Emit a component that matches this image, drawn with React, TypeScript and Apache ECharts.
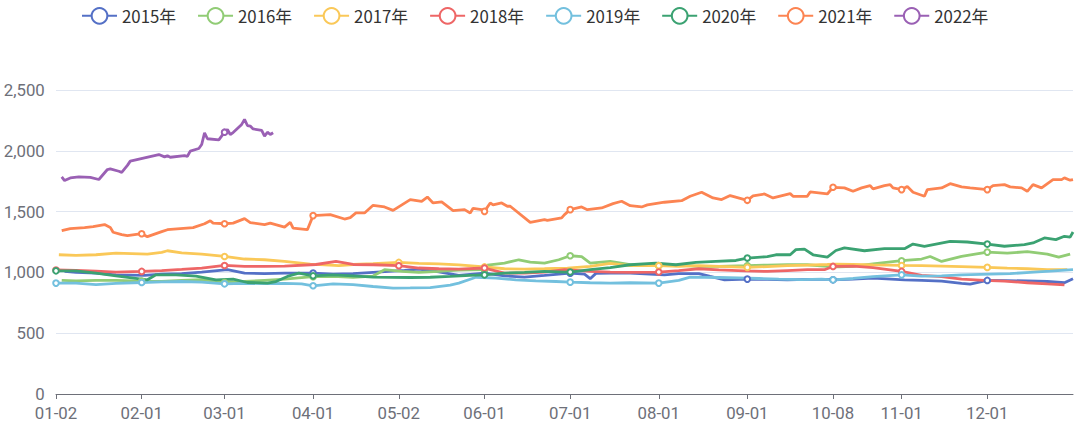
import React, { useEffect, useRef } from "react";
import * as echarts from "echarts";

// Calendar of MM-DD categories (union of trading days across years)
const MONTH_LENGTHS = [31, 29, 31, 30, 31, 30, 31, 31, 30, 31, 30, 31];
const CLOSED_DAYS = ["01-01", "05-01", "10-01", "10-02", "10-03", "10-04", "10-05", "10-06", "10-07"];
const pad = (n: number) => String(n).padStart(2, "0");
const categories: string[] = [];
MONTH_LENGTHS.forEach((len, m) => {
  for (let d = 1; d <= len; d++) {
    const k = `${pad(m + 1)}-${pad(d)}`;
    if (!CLOSED_DAYS.includes(k)) categories.push(k);
  }
});

const seriesNames = ["2015年", "2016年", "2017年", "2018年", "2019年", "2020年", "2021年", "2022年"];
const palette = ["#5470c6", "#91cc75", "#fac858", "#ee6666", "#73c0de", "#3ba272", "#fc8452", "#9a60b4"];
const yTicks = { min: 0, max: 2500, interval: 500 };

type P = [string, number];

const y2015: P[] = [["01-05",1008],["01-09",1000],["01-16",994],["01-23",980],["02-02",975],["02-08",985],["02-15",990],["02-22",1003],["03-02",1022],["03-08",994],["03-15",990],["03-22",994],["04-01",994],["04-08",985],["04-15",990],["04-22",1000],["05-04",1016],["05-09",1027],["05-16",1005],["05-23",975],["06-01",994],["06-08",972],["06-15",961],["06-22",975],["07-01",994],["07-06",985],["07-08",948],["07-10",992],["07-15",994],["07-22",994],["08-03",980],["08-08",990],["08-15",990],["08-19",967],["08-24",939],["09-01",945],["09-08",942],["09-15",939],["09-22",943],["09-30",942],["10-08",939],["10-15",945],["10-22",953],["11-02",939],["11-08",935],["11-15",928],["11-22",910],["11-25",904],["12-01",934],["12-08",932],["12-15",930],["12-22",925],["12-28",915],["12-31",948]];

const y2016: P[] = [["01-04",935],["01-09",930],["01-16",935],["01-23",934],["02-01",928],["02-08",925],["02-15",935],["02-22",940],["03-01",917],["03-08",925],["03-15",935],["03-22",945],["04-01",965],["04-08",967],["04-15",960],["04-22",970],["04-26",1022],["05-03",1008],["05-09",1000],["05-16",1008],["05-23",1018],["06-01",1022],["06-02",1060],["06-08",1077],["06-13",1104],["06-17",1085],["06-22",1077],["06-27",1104],["07-01",1137],["07-05",1130],["07-08",1077],["07-15",1090],["07-22",1063],["08-01",1055],["08-08",1060],["08-15",1050],["08-22",1049],["09-01",1055],["09-08",1060],["09-15",1063],["09-22",1063],["09-30",1048],["10-10",1046],["10-15",1050],["10-22",1070],["11-01",1096],["11-08",1110],["11-11",1131],["11-15",1090],["11-22",1131],["12-01",1167],["12-08",1159],["12-15",1170],["12-22",1151],["12-26",1126],["12-30",1151]];

const y2017: P[] = [["01-03",1145],["01-09",1140],["01-16",1145],["01-23",1159],["02-03",1150],["02-08",1165],["02-10",1178],["02-15",1160],["02-22",1150],["03-01",1131],["03-08",1110],["03-15",1104],["03-22",1090],["03-31",1068],["04-05",1063],["04-10",1055],["04-15",1065],["04-22",1071],["05-02",1082],["05-09",1075],["05-16",1070],["05-23",1062],["06-01",1045],["06-08",1030],["06-15",1027],["06-22",1030],["06-30",1035],["07-08",1050],["07-15",1075],["07-22",1055],["08-01",1055],["08-08",1050],["08-15",1055],["08-22",1050],["09-01",1041],["09-08",1048],["09-15",1055],["09-22",1060],["09-29",1065],["10-09",1068],["10-15",1066],["10-22",1062],["11-01",1057],["11-08",1055],["11-15",1052],["11-22",1048],["12-01",1041],["12-08",1035],["12-15",1030],["12-22",1022],["12-29",1022]];

const y2018: P[] = [["01-02",1020],["01-09",1016],["01-16",1010],["01-23",1003],["02-01",1008],["02-08",1015],["02-15",1025],["02-22",1036],["03-01",1057],["03-08",1050],["03-15",1049],["03-22",1052],["04-02",1065],["04-09",1090],["04-15",1065],["04-22",1063],["05-02",1055],["05-09",1036],["05-16",1030],["05-23",1027],["06-01",1036],["06-08",994],["06-15",994],["06-22",1003],["06-29",1022],["07-08",1008],["07-15",1003],["07-22",1000],["08-01",1003],["08-08",1015],["08-15",1030],["08-22",1020],["08-31",1012],["09-08",1008],["09-15",1015],["09-22",1022],["09-28",1022],["10-08",1049],["10-15",1052],["10-22",1040],["11-01",1008],["11-08",975],["11-15",966],["11-22",945],["11-30",934],["12-07",928],["12-15",915],["12-22",905],["12-28",898]];

const y2019: P[] = [["01-02",912],["01-09",912],["01-16",900],["01-23",910],["02-01",917],["02-08",922],["02-15",925],["02-22",920],["03-01",906],["03-08",910],["03-15",908],["03-22",910],["03-28",905],["04-01",890],["04-08",906],["04-15",900],["04-22",884],["04-29",871],["05-06",872],["05-13",875],["05-20",895],["05-23",912],["05-29",960],["06-05",953],["06-12",939],["06-19",930],["06-26",925],["07-01",920],["07-08",915],["07-15",912],["07-22",915],["08-01",912],["08-08",935],["08-12",961],["08-22",958],["08-29",955],["09-05",950],["09-12",945],["09-20",940],["09-27",945],["10-08",939],["10-15",950],["10-22",966],["11-01",980],["11-08",970],["11-15",972],["11-22",980],["12-02",986],["12-09",990],["12-16",1000],["12-23",1010],["12-31",1022]];

const y2020: P[] = [["01-02",1013],["01-09",1013],["01-16",994],["01-23",972],["02-03",939],["02-06",980],["02-13",980],["02-20",970],["02-27",939],["03-04",945],["03-09",917],["03-16",912],["03-19",925],["03-23",967],["03-27",994],["04-01",972],["04-08",980],["04-15",972],["04-22",961],["05-06",958],["05-13",960],["05-20",967],["05-27",975],["06-01",980],["06-08",994],["06-15",1000],["06-22",1008],["06-29",1002],["07-01",1003],["07-08",1022],["07-15",1040],["07-22",1063],["07-31",1077],["08-07",1063],["08-14",1082],["08-21",1090],["08-28",1098],["09-01",1118],["09-08",1130],["09-11",1145],["09-16",1145],["09-18",1187],["09-21",1192],["09-24",1145],["09-29",1126],["10-09",1180],["10-12",1201],["10-19",1178],["10-26",1195],["11-02",1195],["11-05",1233],["11-09",1215],["11-18",1255],["11-24",1250],["12-01",1233],["12-07",1215],["12-14",1228],["12-17",1242],["12-21",1283],["12-25",1270],["12-28",1297],["12-30",1290],["12-31",1332]];

const y2021: P[] = [["01-04",1343],["01-07",1360],["01-12",1368],["01-15",1376],["01-19",1393],["01-21",1370],["01-22",1330],["01-25",1310],["01-27",1302],["02-01",1318],["02-03",1294],["02-08",1335],["02-10",1351],["02-19",1368],["02-23",1400],["02-25",1425],["02-26",1405],["03-01",1400],["03-04",1405],["03-08",1442],["03-10",1410],["03-15",1393],["03-17",1405],["03-22",1373],["03-24",1411],["03-25",1365],["03-30",1351],["04-01",1467],["04-07",1475],["04-12",1439],["04-14",1450],["04-16",1489],["04-19",1489],["04-22",1552],["04-26",1538],["04-29",1510],["05-06",1599],["05-10",1585],["05-12",1620],["05-14",1571],["05-17",1580],["05-21",1508],["05-25",1516],["05-27",1489],["05-28",1527],["05-31",1516],["06-01",1502],["06-03",1571],["06-04",1555],["06-07",1571],["06-09",1544],["06-10",1544],["06-17",1411],["06-22",1434],["06-23",1428],["06-28",1448],["06-29",1475],["07-01",1516],["07-05",1538],["07-07",1516],["07-12",1530],["07-16",1566],["07-19",1585],["07-22",1549],["07-26",1538],["07-28",1555],["08-03",1577],["08-09",1590],["08-12",1626],["08-16",1659],["08-20",1612],["08-23",1599],["08-26",1632],["09-01",1593],["09-03",1629],["09-07",1645],["09-10",1612],["09-16",1648],["09-17",1626],["09-22",1626],["09-23",1662],["09-29",1645],["10-08",1700],["10-12",1695],["10-15",1667],["10-18",1695],["10-21",1714],["10-22",1687],["10-26",1714],["10-28",1722],["10-29",1695],["11-01",1681],["11-03",1706],["11-05",1659],["11-09",1626],["11-10",1681],["11-15",1695],["11-18",1730],["11-22",1703],["11-25",1695],["12-01",1681],["12-03",1714],["12-07",1722],["12-09",1703],["12-13",1695],["12-15",1667],["12-17",1722],["12-20",1695],["12-24",1763],["12-27",1763],["12-28",1777],["12-30",1758],["12-31",1763]];

const y2022: P[] = [["01-04",1785],["01-05",1755],["01-07",1777],["01-10",1785],["01-14",1782],["01-17",1764],["01-20",1846],["01-21",1851],["01-24",1832],["01-25",1823],["01-27",1880],["01-28",1915],["02-07",1969],["02-09",1950],["02-10",1960],["02-11",1947],["02-16",1961],["02-17",1955],["02-18",1997],["02-21",2019],["02-22",2052],["02-23",2148],["02-24",2099],["02-28",2090],["03-01",2153],["03-02",2175],["03-03",2134],["03-04",2150],["03-07",2217],["03-08",2258],["03-09",2208],["03-10",2203],["03-11",2180],["03-14",2167],["03-15",2120],["03-16",2153],["03-17",2134],["03-18",2148]];

const seriesValues: P[][] = [y2015, y2016, y2017, y2018, y2019, y2020, y2021, y2022];

const FONT = "'Microsoft YaHei', 'Noto Sans CJK SC', 'Noto Sans', sans-serif";
const AXIS_FONT = "Roboto, 'Noto Sans', sans-serif";
const S = 1.4;

function toAxisData(pairs: P[]): (number | null)[] {
  const idx = new Map(categories.map((c, i) => [c, i] as [string, number]));
  const out: (number | null)[] = categories.map(() => null);
  pairs.forEach(([d, v]) => {
    const i = idx.get(d);
    if (i !== undefined) out[i] = v;
  });
  return out;
}

export default function App() {
  const ref = useRef<HTMLDivElement>(null);
  useEffect(() => {
    if (!ref.current) return;
    const chart = echarts.init(ref.current, null, { renderer: "svg" });
    const showLabel = (index: number, value: string) =>
      index === 0 || categories[index - 1].slice(0, 2) !== String(value).slice(0, 2);
    chart.setOption({
      animation: false,
      color: palette,
      textStyle: { fontFamily: FONT },
      legend: {
        top: 2,
        left: 76,
        itemWidth: 25 * S,
        itemHeight: 14 * S,
        itemGap: 21,
        textStyle: { fontSize: 12 * S, color: "#333", fontFamily: FONT },
        data: seriesNames,
      },
      grid: { left: 56, right: 7, top: 90, bottom: 34, containLabel: false },
      xAxis: {
        type: "category",
        boundaryGap: false,
        data: categories,
        axisLine: { lineStyle: { color: "#6E7079", width: 1 } },
        axisTick: { length: 5, lineStyle: { color: "#6E7079" } },
        axisLabel: {
          interval: showLabel,
          color: "#6E7079",
          fontSize: 12 * S,
          lineHeight: 17,
          fontFamily: AXIS_FONT,
          margin: 10,
        },
      },
      yAxis: {
        type: "value",
        min: yTicks.min,
        max: yTicks.max,
        interval: yTicks.interval,
        axisLabel: {
          color: "#6E7079",
          fontSize: 12 * S,
          lineHeight: 14,
          padding: [0, 0, 3, 0],
          fontFamily: AXIS_FONT,
          margin: 8 * S,
        },
        splitLine: { lineStyle: { color: "#E0E6F1", width: 1 } },
        axisLine: { show: false },
        axisTick: { show: false },
      },
      series: seriesNames.map((name, i) => ({
        name,
        type: "line",
        data: toAxisData(seriesValues[i]),
        connectNulls: true,
        symbol: "emptyCircle",
        symbolSize: 4 * S,
        showAllSymbol: "auto",
        lineStyle: { width: 2 * S },
        itemStyle: { borderWidth: 2 * S },
      })),
    });
    return () => chart.dispose();
  }, []);
  return (
    <div
      ref={ref}
      style={{ position: "fixed", left: 0, top: 0, width: 1080, height: 428, background: "#fff" }}
    />
  );
}
